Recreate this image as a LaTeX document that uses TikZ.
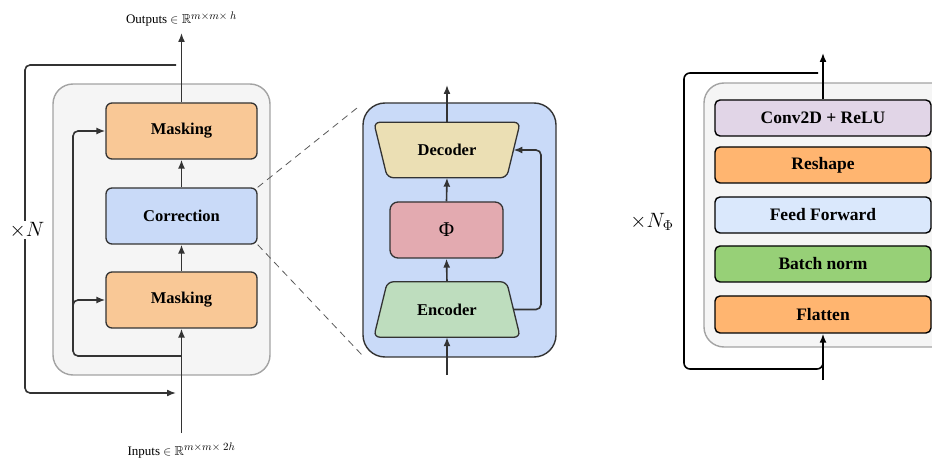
\documentclass[tikz,border=0pt]{standalone}
\usepackage{amsmath,amssymb}
\usepackage{fontspec}
\setmainfont{Liberation Serif}
\usetikzlibrary{arrows.meta,calc}
\definecolor{linec}{HTML}{333333}
\definecolor{panelfill}{HTML}{F5F5F5}
\definecolor{paneldraw}{HTML}{A3A3A3}
\definecolor{maskc}{HTML}{F9C896}
\definecolor{corrc}{HTML}{C9DAF8}
\definecolor{decc}{HTML}{EBDFB4}
\definecolor{phic}{HTML}{E3AAB0}
\definecolor{encc}{HTML}{BEDDBE}
\definecolor{convc}{HTML}{E1D5E7}
\definecolor{orangec}{HTML}{FFB570}
\definecolor{ffc}{HTML}{DAE8FC}
\definecolor{bnc}{HTML}{97D077}
\newcommand{\supsz}[1]{\text{\fontsize{11}{12}\selectfont$#1$}}
\begin{document}
\begin{tikzpicture}[x=1pt,y=-1pt,
  arr/.style={draw=linec, line width=1.6pt, -{Latex[length=9pt,width=7pt]}},
  arrb/.style={draw=black, line width=1.6pt, -{Latex[length=9pt,width=7pt]}},
  panel/.style={draw=paneldraw, fill=panelfill, line width=1.4pt, rounded corners=20pt},
  lbox/.style={draw=linec, line width=1.3pt, rounded corners=6pt, minimum width=151pt, minimum height=56pt, inner sep=0pt, font=\fontsize{16.5}{18}\selectfont\bfseries},
  rbox/.style={draw=black, line width=1.4pt, rounded corners=5pt, minimum width=216pt, minimum height=36pt, inner sep=0pt, font=\fontsize{17.5}{19}\selectfont\bfseries},
  ghost/.style={minimum width=132.5pt, minimum height=55pt, inner sep=0pt},
  txt/.style={font=\fontsize{16.5}{18}\selectfont\bfseries, inner sep=0pt},
  trap/.style={draw=linec, line width=1.3pt, rounded corners=6pt},
  dashln/.style={draw=black!65, line width=0.8pt, dash pattern=on 7pt off 5pt},
  biglbl/.style={font=\fontsize{22}{24}\selectfont}
]
\useasboundingbox (0,0) rectangle (932,462);
\clip (0,0) rectangle (932,462);

% ---------------- Left panel ----------------
\node[panel, minimum width=217pt, minimum height=291pt] (lpanel) at (161.5,229.5) {};
\node[lbox, fill=maskc] (m2) at (181.5,131) {Masking};
\node[lbox, fill=corrc] (corr) at (181.5,216) {Correction};
\node[lbox, fill=maskc] (m1) at (181.5,300) {Masking};

\coordinate (outtip) at (181.5,33);
\coordinate (inbot) at (181.5,433);
\coordinate (sk) at (181.5,356);
\coordinate (lt) at (176,65);
\coordinate (lb) at (176,393);

\draw[arr] (m1.north) -- (corr.south);
\draw[arr] (corr.north) -- (m2.south);
\draw[arr] (m2.north) -- (outtip);
\draw[arr] (inbot) -- (m1.south);
\draw[arr, rounded corners=5pt] (sk) -- (73,356) -- (73,131) -- (m2.west);
\draw[arr, rounded corners=5pt] (73,330) -- (73,300) -- (m1.west);
\draw[arr, rounded corners=5pt] (lt) -- (25,65) -- (25,393) -- (lb);
\node[biglbl, fill=white, inner sep=1pt] (nlbl) at (27,230) {$\times N$};

\node[anchor=base, font=\fontsize{13}{15}\selectfont, inner sep=0pt] (outlbl) at (181.5,24) {Outputs $\in\mathbb{R}^{\supsz{m{\times}m{\times}\ h}}$};
\node[anchor=base, font=\fontsize{13}{15}\selectfont, inner sep=0pt] (inlbl) at (181.5,455) {Inputs $\in\mathbb{R}^{\supsz{m{\times}m{\times}\ 2h}}$};

% ---------------- Middle panel ----------------
\node[draw=linec, fill=corrc, line width=1.4pt, rounded corners=22pt, minimum width=193pt, minimum height=254pt] (cbig) at (459.5,230) {};
\coordinate (zt) at (357,108);
\coordinate (zb) at (362,355);
\draw[dashln] (corr.north east) -- (zt);
\draw[dashln] (corr.south east) -- (zb);

\node[ghost] (dec) at (447,150) {};
\draw[trap, fill=decc] ($(dec.north west)+(-6.75,0)$) -- ($(dec.north east)+(6.75,0)$) -- ($(dec.south east)+(-6.75,0)$) -- ($(dec.south west)+(6.75,0)$) -- cycle;
\node[txt] (dectxt) at (dec) {Decoder};

\node[draw=linec, fill=phic, line width=1.3pt, rounded corners=8pt, minimum width=113pt, minimum height=56pt, inner sep=0pt, font=\fontsize{21}{22}\selectfont] (phi) at (446.5,230) {Φ};

\node[ghost] (enc) at (447,309.5) {};
\draw[trap, fill=encc] ($(enc.north west)+(6.75,0)$) -- ($(enc.north east)+(-6.75,0)$) -- ($(enc.south east)+(6.75,0)$) -- ($(enc.south west)+(-6.75,0)$) -- cycle;
\node[txt] (enctxt) at (enc) {Encoder};

\coordinate (mtop) at (447,85);
\coordinate (mbot) at (447,375);
\draw[arr] (enc.north) -- (phi.south);
\draw[arr] (phi.north) -- (dec.south);
\draw[arr] (dec.north) -- (mtop);
\draw[arr] (mbot) -- (enc.south);
\draw[arr, rounded corners=5pt] (enc.east) -- (541,309.5) -- (541,150) -- (dec.east);

% ---------------- Right panel ----------------
\node[panel, minimum width=260pt, minimum height=264pt] (rpanel) at (834,215) {};
\node[rbox, fill=convc] (conv) at (823,118) {Conv2D + ReLU};
\node[rbox, fill=orangec] (resh) at (823,165) {Reshape};
\node[rbox, fill=ffc] (ff) at (823,215) {Feed Forward};
\node[rbox, fill=bnc] (bn) at (823,264) {Batch norm};
\node[rbox, fill=orangec, minimum height=37pt] (flat) at (823,314.5) {Flatten};

\coordinate (rtop) at (823,53);
\coordinate (rbot) at (823,380);
\coordinate (rlt) at (818,73);
\draw[arrb] (conv.north) -- (rtop);
\draw[arrb] (rbot) -- (flat.south);
\draw[draw=black, line width=1.6pt, rounded corners=6pt] (rlt) -- (684,73) -- (684,369) -- (823,369) -- (823,358);
\node[biglbl, inner sep=0pt] (nphi) at (652,222) {$\times N_{\Phi}$};
\end{tikzpicture}
\end{document}
